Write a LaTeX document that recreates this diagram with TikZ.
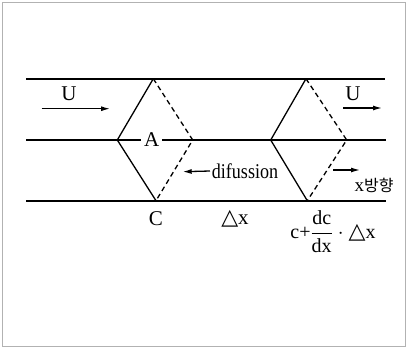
\documentclass[tikz,border=0pt]{standalone}
\usepackage{fontspec}
\setmainfont{Liberation Serif}
\newfontfamily\krfont{Noto Sans CJK KR}
\newfontfamily\symfont{DejaVu Sans}
\newcommand{\tri}{{\symfont\fontsize{22}{24}\selectfont △}}
\usetikzlibrary{arrows.meta}
\begin{document}
\begin{tikzpicture}[x=1pt,y=-1pt,
  chan/.style={line width=1.6pt},
  solidedge/.style={line width=1.3pt},
  dashedge/.style={line width=1.3pt,dash pattern=on 5pt off 3.5pt},
  flow/.style={line width=1.3pt,-{Latex[length=9pt,width=5pt]}},
  lbl/.style={font=\fontsize{21}{23}\selectfont,inner sep=1pt}]
\useasboundingbox (0,0) rectangle (407,349);
\draw[gray!60,line width=0.6pt] (2.5,2.5) rectangle (405,346);
% channel lines
\coordinate (t0) at (26,78.7); \coordinate (t1) at (385,78.7);
\coordinate (m0) at (26,140); \coordinate (m1) at (386,140);
\coordinate (b0) at (26,200.7); \coordinate (b1) at (386,200.7);
\draw[chan] (t0) -- (t1);
\draw[chan] (m0) -- (m1);
\draw[chan] (b0) -- (b1);
% left diamond
\coordinate (LT) at (153.3,78.7); \coordinate (LL) at (117.3,140);
\coordinate (LB) at (156,200.7); \coordinate (LR) at (192.7,140);
\draw[solidedge] (LT) -- (LL) -- (LB);
\draw[dashedge] (LT) -- (LR) -- (LB);
% right diamond
\coordinate (RT) at (306,78.7); \coordinate (RL) at (270.7,140);
\coordinate (RB) at (307.3,200.7); \coordinate (RR) at (346.7,140);
\draw[solidedge] (RT) -- (RL) -- (RB);
\draw[dashedge] (RT) -- (RR) -- (RB);
% labels
\node[lbl,fill=white,inner sep=3pt] (A) at (151.7,140) {A};
\node[lbl] (U1) at (69,94) {U};
\node[lbl] (U2) at (353,94) {U};
\coordinate (u1s) at (41.7,108.7); \coordinate (u1e) at (110,108.7);
\draw[flow] (u1s) -- (u1e);
\coordinate (u2s) at (343,108); \coordinate (u2e) at (382,108);
\draw[flow] (u2s) -- (u2e);
\node[lbl,xscale=0.86,inner sep=2pt] (dif) at (245,171) {difussion};
\coordinate (d1e) at (182.7,171.7);
\draw[flow] (dif.west) -- (d1e);
\coordinate (xs) at (333,170); \coordinate (xe) at (360,170);
\draw[flow] (xs) -- (xe);
\node[lbl,font=\fontsize{19}{21}\selectfont] (xdir) at (374,185) {x{\krfont\fontsize{16}{18}\selectfont 방향}};
\node[lbl] (C) at (156,219) {C};
\node[lbl] (dx) at (235,219) {\tri x};
\node[lbl,font=\fontsize{20}{22}\selectfont] (cc) at (333,232) {c+$\displaystyle\frac{\hbox{\fontsize{20}{22}\selectfont dc}}{\hbox{\fontsize{20}{22}\selectfont dx}}$ $\cdot$ \tri x};
\end{tikzpicture}
\end{document}
